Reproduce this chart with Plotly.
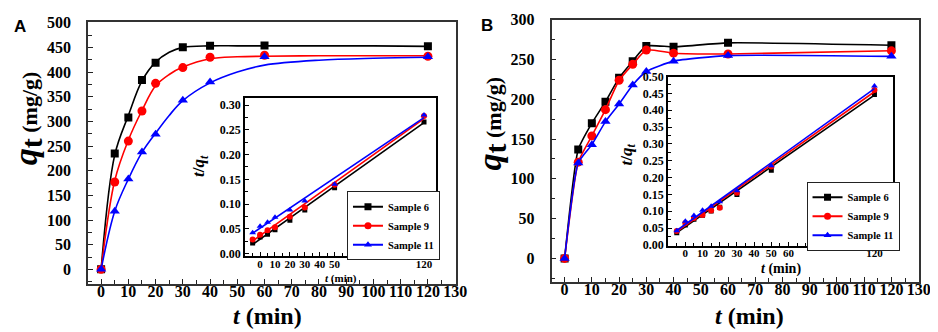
import plotly.graph_objects as go

W, H = 938, 332
SERIF = "Liberation Serif, Times New Roman, Times, serif"
SANS = "Liberation Sans, Arial, sans-serif"

# ---------------- Data ----------------
# Panel A (main): adsorption kinetics
tA = [0, 5, 10, 15, 20, 30, 40, 60, 120]
qA_s6 = [0, 235, 308, 384, 419, 450, 453, 454, 452]
qA_s9 = [0, 177, 260, 321, 377, 409, 430, 434, 432]
qA_s11 = [0, 118, 183, 238, 274, 343, 380, 431, 431]

# Panel A fitted curves
tA_fit = [0, 5, 10, 15, 20, 25, 30, 40, 50, 60, 80, 100, 120]
fA_s6 = [0, 232, 312, 382, 420, 440, 450, 453, 453, 453, 453, 453, 452]
fA_s9 = [0, 180, 262, 322, 372, 395, 410, 427, 431, 432, 433, 433, 433]
fA_s11 = [0, 118, 183, 237, 276, 312, 342, 378, 400, 414, 424, 428, 430]

# Panel A inset: t/qt
tA_in = [5, 10, 15, 20, 30, 40, 60, 120]
rA_s6 = [0.021, 0.033, 0.039, 0.048, 0.067, 0.088, 0.133, 0.266]
rA_s9 = [0.028, 0.038, 0.047, 0.053, 0.074, 0.093, 0.139, 0.278]
rA_s11 = [0.042, 0.055, 0.063, 0.073, 0.088, 0.106, 0.140, 0.280]
tA_line = [5, 120]
lA_s6 = [0.018, 0.265]
lA_s9 = [0.025, 0.273]
lA_s11 = [0.041, 0.275]
inA_tickvals = [10, 20, 30, 40, 50, 60, 120]
inA_ticktext = ["0", "10", "20", "30", "40", "50", "120"]

# Panel B (main)
tB = [0, 5, 10, 15, 20, 25, 30, 40, 60, 120]
qB_s6 = [0, 137, 170, 197, 227, 248, 267, 266, 271, 268]
qB_s9 = [0, 121, 154, 187, 224, 244, 262, 258, 257, 261]
qB_s11 = [0, 120, 143, 172, 194, 218, 235, 248, 255, 254]

# Panel B inset: t/qt
tB_in = [5, 10, 15, 20, 25, 30, 40, 60, 120]
rB_s6 = [0.036, 0.059, 0.076, 0.088, 0.101, 0.112, 0.150, 0.222, 0.447]
rB_s9 = [0.041, 0.065, 0.080, 0.089, 0.102, 0.110, 0.155, 0.233, 0.460]
rB_s11 = [0.042, 0.070, 0.087, 0.103, 0.115, 0.128, 0.161, 0.235, 0.472]
tB_line = [4, 120]
lB_s6 = [0.033, 0.445]
lB_s9 = [0.036, 0.455]
lB_s11 = [0.039, 0.464]
inB_tickvals = [10, 20, 30, 40, 50, 60, 70, 120]
inB_ticktext = ["0", "10", "20", "30", "40", "50", "60", "120"]

main_xticks = list(range(0, 131, 10))

names = ["Sample 6", "Sample 9", "Sample 11"]
colors = ["#000000", "#ff0000", "#0000ff"]
symbols = ["square", "circle", "triangle-up"]
msize_main = [8, 9, 9]
msize_in = [5, 6, 6]


def px_x(p):
    return p / W


def px_y(p):
    return 1 - p / H


fig = go.Figure()

# ---- Panel A main ----
for fits, pts, c, s, ms in zip([fA_s6, fA_s9, fA_s11], [qA_s6, qA_s9, qA_s11], colors, symbols, msize_main):
    fig.add_trace(go.Scatter(x=tA_fit, y=fits, mode="lines", line=dict(color=c, width=1.6, shape="spline", smoothing=1.0),
                             xaxis="x", yaxis="y", showlegend=False, hoverinfo="skip"))
    fig.add_trace(go.Scatter(x=tA, y=pts, mode="markers", marker=dict(color=c, symbol=s, size=ms),
                             xaxis="x", yaxis="y", showlegend=False))

# ---- Panel A inset ----
for line, pts, c, s, ms in zip([lA_s6, lA_s9, lA_s11], [rA_s6, rA_s9, rA_s11], colors, symbols, msize_in):
    fig.add_trace(go.Scatter(x=tA_line, y=line, mode="lines", line=dict(color=c, width=1.6),
                             xaxis="x2", yaxis="y2", showlegend=False))
    fig.add_trace(go.Scatter(x=tA_in, y=pts, mode="markers", marker=dict(color=c, symbol=s, size=ms),
                             xaxis="x2", yaxis="y2", showlegend=False))
for c, s, nm in zip(colors, symbols, names):
    fig.add_trace(go.Scatter(x=[None], y=[None], mode="lines+markers", name=nm,
                             line=dict(color=c, width=2), marker=dict(color=c, symbol=s, size=7),
                             xaxis="x2", yaxis="y2", legend="legend"))

# ---- Panel B main ----
for pts, c, s, ms in zip([qB_s6, qB_s9, qB_s11], colors, symbols, msize_main):
    fig.add_trace(go.Scatter(x=tB, y=pts, mode="lines+markers", line=dict(color=c, width=1.6, shape="spline", smoothing=0.5),
                             marker=dict(color=c, symbol=s, size=ms),
                             xaxis="x3", yaxis="y3", showlegend=False))

# ---- Panel B inset ----
for line, pts, c, s, ms in zip([lB_s6, lB_s9, lB_s11], [rB_s6, rB_s9, rB_s11], colors, symbols, msize_in):
    fig.add_trace(go.Scatter(x=tB_line, y=line, mode="lines", line=dict(color=c, width=1.6),
                             xaxis="x4", yaxis="y4", showlegend=False))
    fig.add_trace(go.Scatter(x=tB_in, y=pts, mode="markers", marker=dict(color=c, symbol=s, size=ms),
                             xaxis="x4", yaxis="y4", showlegend=False))
for c, s, nm in zip(colors, symbols, names):
    fig.add_trace(go.Scatter(x=[None], y=[None], mode="lines+markers", name=nm,
                             line=dict(color=c, width=2), marker=dict(color=c, symbol=s, size=7),
                             xaxis="x4", yaxis="y4", legend="legend2"))

main_font = dict(family=SERIF, size=16, color="black", weight="bold")
in_font = dict(family=SERIF, size=11, color="black", weight="bold")


def main_x(domain, anchor):
    return dict(domain=domain, anchor=anchor, range=[-4.8, 130.2], tickmode="array", tickvals=main_xticks,
                ticks="inside", ticklen=5, tickwidth=1.3, tickcolor="#222",
                minor=dict(ticks="inside", ticklen=4, tickmode="linear", tick0=0, dtick=5, tickcolor="#222"),
                showline=True, linecolor="#333", linewidth=1.5, mirror=True,
                showgrid=False, zeroline=False, tickfont=main_font, ticklabelstandoff=-8)


def main_y(domain, anchor, rng):
    return dict(domain=domain, anchor=anchor, range=rng, tickmode="linear", tick0=0, dtick=50,
                ticks="inside", ticklen=5, tickwidth=1.3, tickcolor="#222",
                minor=dict(ticks="inside", ticklen=4, tickmode="linear", tick0=0, dtick=25, tickcolor="#222"),
                showline=True, linecolor="#333", linewidth=1.5, mirror=True,
                showgrid=False, zeroline=False, tickfont=main_font, ticklabelstandoff=12)


def in_x(domain, anchor, rng, tv, tt):
    return dict(domain=domain, anchor=anchor, range=rng, tickmode="array", tickvals=tv, ticktext=tt,
                ticks="inside", ticklen=4, tickwidth=1.2, tickcolor="black",
                minor=dict(ticks="inside", ticklen=3, tickmode="linear", tick0=0, dtick=5, tickcolor="black"),
                showline=True, linecolor="black", linewidth=2, mirror=True,
                showgrid=False, zeroline=False, tickfont=in_font, ticklabelstandoff=-4)


def in_y(domain, anchor, rng):
    return dict(domain=domain, anchor=anchor, range=rng, tickmode="linear", tick0=0, dtick=0.05, tickformat=".2f",
                ticks="inside", ticklen=4, tickwidth=1.2, tickcolor="black",
                minor=dict(ticks="inside", ticklen=3, tickmode="linear", tick0=0, dtick=0.025, tickcolor="black"),
                showline=True, linecolor="black", linewidth=2, mirror=True,
                showgrid=False, zeroline=False, tickfont=dict(family=SERIF, size=12, color="black", weight="bold"))


leg_font = dict(family=SERIF, size=10.5, color="black", weight="bold")
fig.update_layout(
    width=W, height=H, margin=dict(l=0, r=0, t=0, b=0),
    paper_bgcolor="white", plot_bgcolor="white",
    xaxis=main_x([px_x(81), px_x(453)], "y"),
    yaxis=main_y([px_y(281), px_y(7)], "x", [-30, 502]),
    xaxis2=in_x([px_x(240), px_x(433)], "y2", [0, 128], inA_tickvals, inA_ticktext),
    yaxis2=in_y([px_y(252), px_y(87)], "x2", [-0.006, 0.314]),
    xaxis3=main_x([px_x(550), px_x(922)], "y3"),
    yaxis3=main_y([px_y(279), px_y(5)], "x3", [-30, 300]),
    xaxis4=in_x([px_x(668), px_x(895)], "y4", [0, 130.5], inB_tickvals, inB_ticktext),
    yaxis4=in_y([px_y(240.7), px_y(64.3)], "x4", [-0.002, 0.5]),
    legend=dict(x=px_x(343), y=px_y(220), xanchor="left", yanchor="middle", bgcolor="white",
                bordercolor="#222", borderwidth=1, font=leg_font, itemwidth=30, tracegroupgap=0),
    legend2=dict(x=px_x(808), y=px_y(210), xanchor="left", yanchor="middle", bgcolor="white",
                 bordercolor="#222", borderwidth=1, font=leg_font, itemwidth=30, tracegroupgap=0),
)

ytitle = ('<span style="font-size:34px"><i>q</i></span><sub><span style="font-size:30px">t</span></sub>'
          '<span style="font-size:22px"> (mg/g)</span>')
xtitle = "<i>t</i> (min)"
intitle_y = "<i>t</i>/<i>q</i><sub><i>t</i></sub>"

annos = [
    dict(text="A", x=px_x(12), y=px_y(12), font=dict(family=SANS, size=17, color="black", weight="bold")),
    dict(text="B", x=px_x(485), y=px_y(11), font=dict(family=SANS, size=17, color="black", weight="bold")),
    dict(text=xtitle, x=px_x(263), y=px_y(314), font=dict(family=SERIF, size=24, color="black", weight="bold")),
    dict(text=xtitle, x=px_x(750), y=px_y(314), font=dict(family=SERIF, size=24, color="black", weight="bold")),
    dict(text=ytitle, x=px_x(20), y=px_y(108), textangle=-90, font=dict(family=SERIF, size=22, color="black", weight="bold")),
    dict(text=ytitle, x=px_x(489), y=px_y(113), textangle=-90, font=dict(family=SERIF, size=22, color="black", weight="bold")),
    dict(text=intitle_y, x=px_x(195), y=px_y(158), textangle=-90, font=dict(family=SERIF, size=17, color="black", weight="bold")),
    dict(text=intitle_y, x=px_x(627), y=px_y(146), textangle=-90, font=dict(family=SERIF, size=17, color="black", weight="bold")),
    dict(text=xtitle, x=px_x(337), y=px_y(275), font=dict(family=SERIF, size=11, color="black", weight="bold")),
    dict(text=xtitle, x=px_x(782), y=px_y(265), font=dict(family=SERIF, size=14, color="black", weight="bold")),
]
for a in annos:
    a.update(xref="paper", yref="paper", showarrow=False, xanchor="center", yanchor="middle")
fig.update_layout(annotations=annos)

fig.write_html("out.html")
